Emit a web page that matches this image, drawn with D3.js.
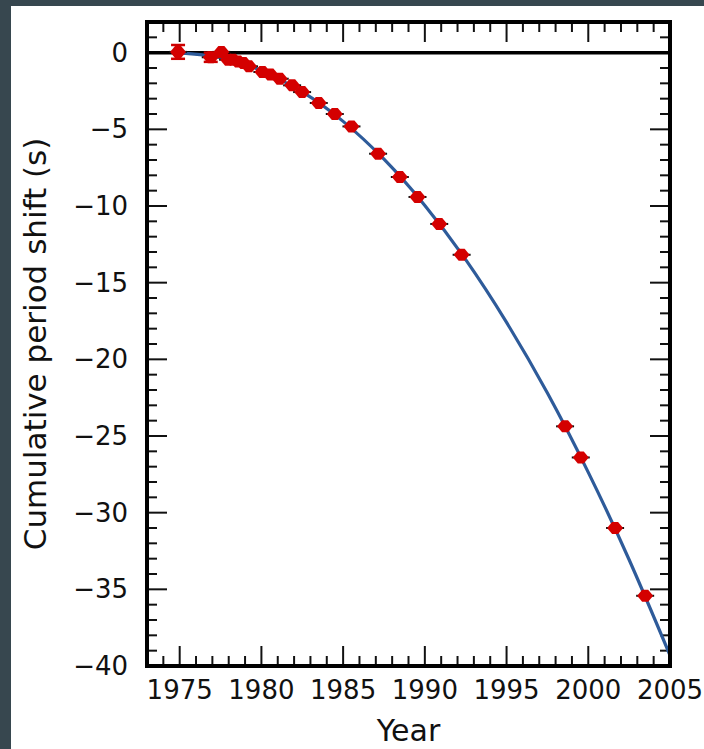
<!DOCTYPE html>
<html>
<head>
<meta charset="utf-8">
<script src="https://cdn.jsdelivr.net/npm/d3@7"></script>
<style>
  body { margin: 0; background: #37474f; }
  text { font-family: "DejaVu Sans", sans-serif; fill: #111; }
</style>
</head>
<body>
<div id="chart"></div>
<script>
// measured points (year, cumulative shift in s)
const years = [1974.9, 1976.9, 1977.55, 1977.96, 1978.26, 1978.57, 1978.9, 1979.24,
  1980.06, 1980.55, 1981.12, 1981.88, 1982.49, 1983.51, 1984.49, 1985.51,
  1987.14, 1988.47, 1989.55, 1990.88, 1992.25, 1998.58, 1999.54, 2001.64, 2003.48];
const shifts = [0.05, -0.3, 0.05, -0.46, -0.46, -0.57, -0.67, -0.89,
  -1.26, -1.43, -1.70, -2.13, -2.57, -3.28, -4.0, -4.81,
  -6.59, -8.11, -9.41, -11.17, -13.18, -24.37, -26.4, -31.0, -35.42];
const errs = [0.45, 0.3, 0, 0, 0, 0, 0, 0, 0, 0, 0, 0, 0, 0, 0, 0,
  0, 0, 0, 0, 0, 0, 0, 0, 0];

// GR prediction curve
const curveYears = [1974.8, 1975, 1977.5, 1980, 1982.5, 1985, 1987.5, 1990, 1992.5,
  1995, 1997.5, 2000, 2002.5, 2005];
const curveShift = [0, -0.01, -0.31, -1.17, -2.56, -4.48, -6.95, -9.96, -13.5,
  -17.59, -22.2, -27.37, -33.07, -39.3];

const xTicks = [1975, 1980, 1985, 1990, 1995, 2000, 2005];
const yTicks = [0, -5, -10, -15, -20, -25, -30, -35, -40];

const W = 704, H = 749;
const margin = { top: 22, right: 34, bottom: 83, left: 147 },
    width = W - margin.left - margin.right,
    height = H - margin.top - margin.bottom;

const svg = d3.select("#chart").append("svg")
    .attr("width", W)
    .attr("height", H);

// white sheet, dark border left and top
svg.append("rect")
    .attr("x", 11).attr("y", 6)
    .attr("width", W - 11).attr("height", H - 6)
    .attr("fill", "#fff");

const g = svg.append("g")
    .attr("transform", `translate(${margin.left},${margin.top})`);

const x = d3.scaleLinear().domain([1973, 2005]).range([0, width]);
const y = d3.scaleLinear().domain([-40, 2]).range([height, 0]);

// ticks on all four sides, pointing inward
const minorX = d3.range(1974, 2005);
const minorY = d3.range(-39, 2);
const tickColor = "#111";

function addTicks(vals, len, sw) {
  g.append("g").selectAll("line").data(vals).join("line")
      .attr("x1", d => x(d)).attr("x2", d => x(d))
      .attr("y1", height).attr("y2", height - len)
      .attr("stroke", tickColor).attr("stroke-width", sw);
  g.append("g").selectAll("line").data(vals).join("line")
      .attr("x1", d => x(d)).attr("x2", d => x(d))
      .attr("y1", 0).attr("y2", len)
      .attr("stroke", tickColor).attr("stroke-width", sw);
}
function addYTicks(vals, len, sw) {
  g.append("g").selectAll("line").data(vals).join("line")
      .attr("y1", d => y(d)).attr("y2", d => y(d))
      .attr("x1", 0).attr("x2", len)
      .attr("stroke", tickColor).attr("stroke-width", sw);
  g.append("g").selectAll("line").data(vals).join("line")
      .attr("y1", d => y(d)).attr("y2", d => y(d))
      .attr("x1", width).attr("x2", width - len)
      .attr("stroke", tickColor).attr("stroke-width", sw);
}
addTicks(minorX.filter(d => d % 5 !== 0), 10, 2);
addTicks(xTicks, 20, 2);
addYTicks(minorY.filter(d => d % 5 !== 0), 10, 2);
addYTicks(yTicks, 20, 2);

// zero line
g.append("line")
    .attr("x1", 0).attr("x2", width)
    .attr("y1", y(0)).attr("y2", y(0))
    .attr("stroke", "#000").attr("stroke-width", 3.5);

// prediction curve
const line = d3.line()
    .curve(d3.curveNatural)
    .x((d, i) => x(curveYears[i]))
    .y(d => y(d));
g.append("path")
    .datum(curveShift)
    .attr("d", line)
    .attr("fill", "none")
    .attr("stroke", "#2e5b9a")
    .attr("stroke-width", 3.2);

// data points
const pts = years.map((yr, i) => ({ yr, v: shifts[i], e: errs[i] }));

const eb = g.append("g").selectAll("g").data(pts.filter(d => d.e > 0)).join("g");
eb.append("line")
    .attr("x1", d => x(d.yr)).attr("x2", d => x(d.yr))
    .attr("y1", d => y(d.v + d.e)).attr("y2", d => y(d.v - d.e))
    .attr("stroke", "#c00").attr("stroke-width", 2.5);
eb.append("line")
    .attr("x1", d => x(d.yr) - 7).attr("x2", d => x(d.yr) + 7)
    .attr("y1", d => y(d.v + d.e)).attr("y2", d => y(d.v + d.e))
    .attr("stroke", "#c00").attr("stroke-width", 2.5);
eb.append("line")
    .attr("x1", d => x(d.yr) - 7).attr("x2", d => x(d.yr) + 7)
    .attr("y1", d => y(d.v - d.e)).attr("y2", d => y(d.v - d.e))
    .attr("stroke", "#c00").attr("stroke-width", 2.5);

g.append("g").selectAll("line").data(pts).join("line")
    .attr("x1", d => x(d.yr) - 9).attr("x2", d => x(d.yr) + 9)
    .attr("y1", d => y(d.v)).attr("y2", d => y(d.v))
    .attr("stroke", "#111").attr("stroke-width", 2);

g.append("g").selectAll("path").data(pts).join("path")
    .attr("transform", d => `translate(${x(d.yr)},${y(d.v)})`)
    .attr("d", "M-8,0L-3,-6L3,-6L8,0L3,6L-3,6Z")
    .attr("fill", "#d40000");

// frame
g.append("rect")
    .attr("width", width).attr("height", height)
    .attr("fill", "none")
    .attr("stroke", "#000").attr("stroke-width", 4);

// tick labels
g.append("g").selectAll("text").data(xTicks).join("text")
    .attr("x", d => x(d))
    .attr("y", height + 33)
    .attr("text-anchor", "middle")
    .attr("font-size", 26)
    .text(d => d);

g.append("g").selectAll("text").data(yTicks).join("text")
    .attr("x", -19)
    .attr("y", d => y(d))
    .attr("dy", "0.35em")
    .attr("text-anchor", "end")
    .attr("font-size", 26)
    .text(d => d === 0 ? "0" : "\u2212" + Math.abs(d));

// axis titles
g.append("text")
    .attr("x", width / 2)
    .attr("y", height + 75)
    .attr("text-anchor", "middle")
    .attr("font-size", 30)
    .text("Year");

g.append("text")
    .attr("transform", `translate(${-101},${height / 2}) rotate(-90)`)
    .attr("text-anchor", "middle")
    .attr("font-size", 31)
    .text("Cumulative period shift (s)");
</script>
</body>
</html>
